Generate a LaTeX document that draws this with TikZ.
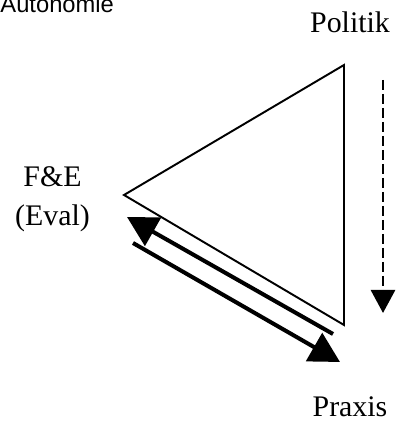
\documentclass[tikz,border=0pt]{standalone}
\usepackage{fontspec}
\setmainfont{Liberation Serif}
\newfontfamily\labelsans{Liberation Sans}
\usetikzlibrary{arrows.meta}

\begin{document}
\begin{tikzpicture}[>={Triangle[length=0.6cm, width=0.64cm]}, line width=1.1pt]
        \useasboundingbox (0,0) rectangle (7.9,8.44);

        % Labels
        \node[anchor=base west, inner sep=0pt, font=\labelsans\fontsize{13.5}{16}\selectfont] (auto) at (-0.01,8.18) {Autonomie};
        \node[anchor=base, inner sep=0pt, font=\fontsize{17}{20}\selectfont] (pol) at (7.0,7.78) {Politik};
        \node[align=center, inner sep=0pt, font=\fontsize{17}{22}\selectfont] (fe) at (1.05,4.46) {F\&E\\(Eval)};
        \node[anchor=base, inner sep=0pt, font=\fontsize{17}{20}\selectfont] (prax) at (7.0,0.10) {Praxis};

        % Triangle
        \coordinate (top) at (6.88,7.14);
        \coordinate (left) at (2.48,4.54);
        \coordinate (bottom) at (6.88,1.94);
        \draw[line join=miter] (top) -- (left) -- (bottom) -- cycle;

        % Feedback arrows along the lower side
        \coordinate (up1) at (6.66,1.76);
        \coordinate (up2) at (2.54,4.10);
        \coordinate (down1) at (2.66,3.58);
        \coordinate (down2) at (6.80,1.20);
        \draw[->, line width=2.3pt] (up1) -- (up2);
        \draw[->, line width=2.3pt] (down1) -- (down2);

        % Top-down arrow on the right
        \coordinate (pol1) at (7.66,6.84);
        \coordinate (pol2) at (7.66,2.18);
        \draw[-{Triangle[length=0.46cm, width=0.48cm]}, line width=1.6pt, dash pattern=on 0.2cm off 0.08cm] (pol1) -- (pol2);
    \end{tikzpicture}
\end{document}
